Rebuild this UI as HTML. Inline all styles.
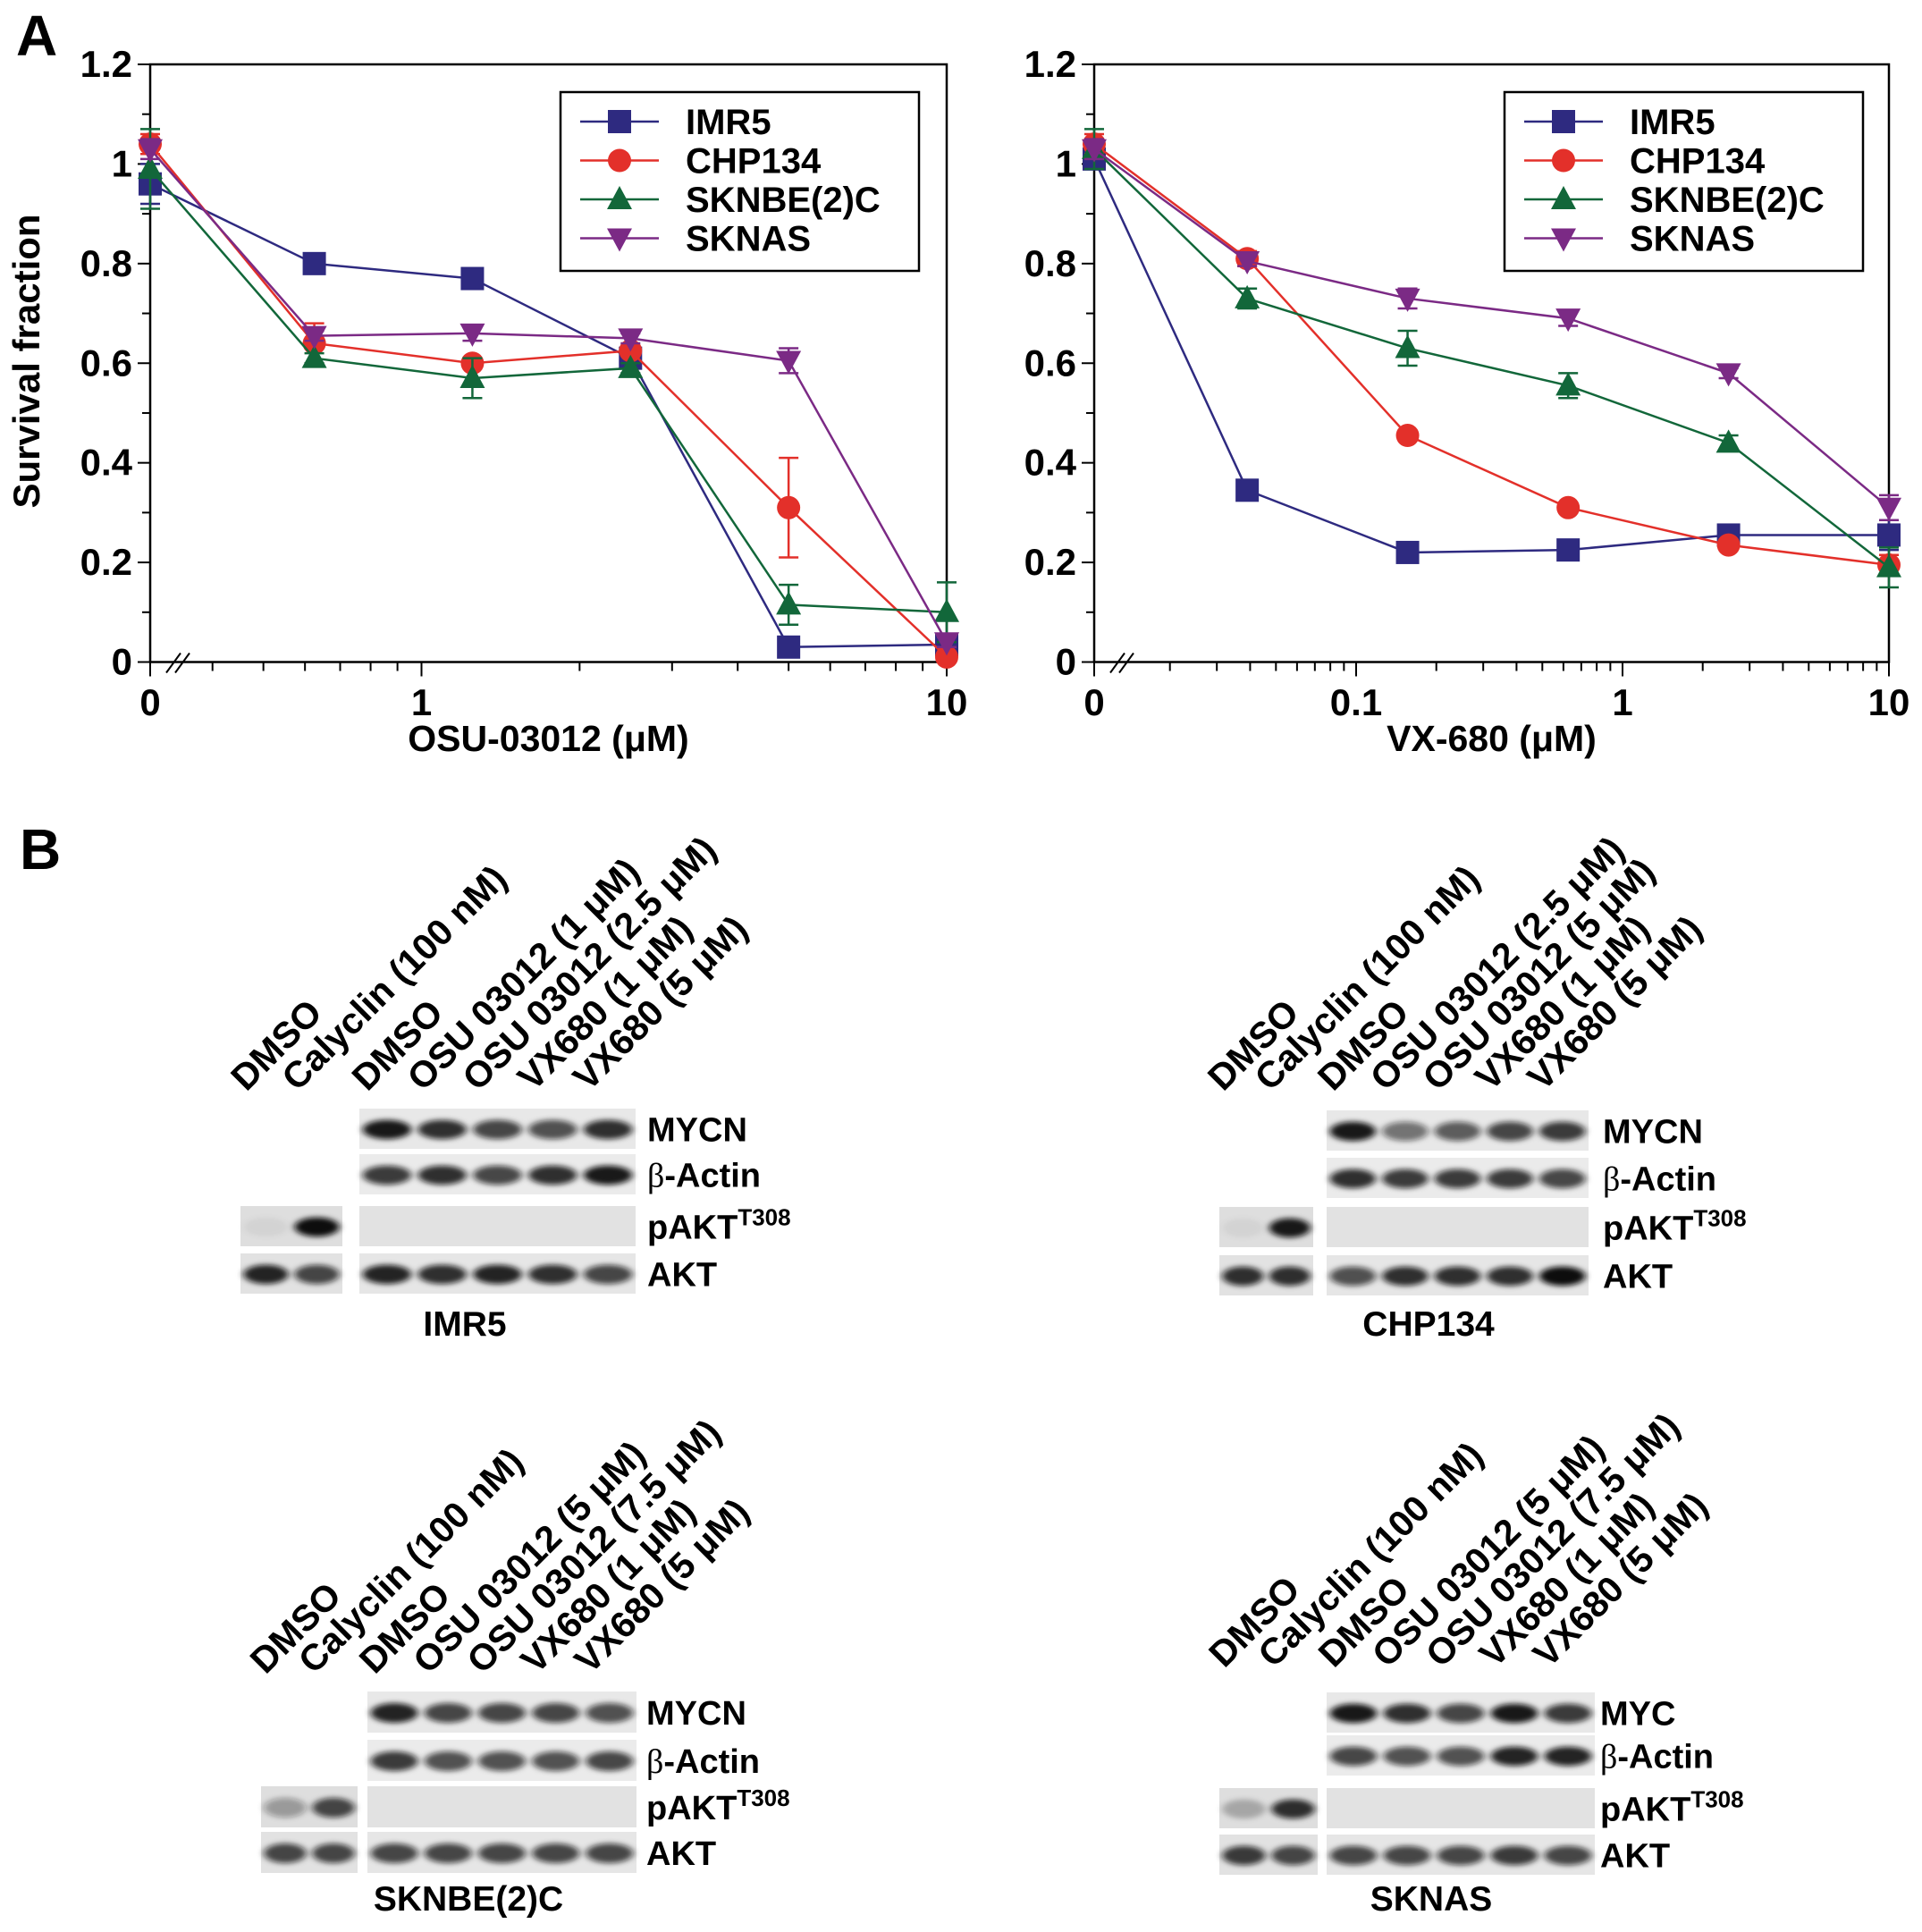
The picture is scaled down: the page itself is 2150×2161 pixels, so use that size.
<!DOCTYPE html>
<html><head><meta charset="utf-8"><style>
html,body{margin:0;padding:0;background:#fff;}
svg{display:block;font-family:"Liberation Sans",sans-serif;font-weight:bold;}
</style></head><body>
<svg id="fig" width="2150" height="2161" viewBox="0 0 2150 2161" xmlns="http://www.w3.org/2000/svg">
<defs><filter id="blur" x="-30%" y="-100%" width="160%" height="300%"><feGaussianBlur stdDeviation="4 3"/></filter></defs>
<text x="18" y="62" font-size="64">A</text>
<text x="22" y="972" font-size="64">B</text>
<g id="chartL"></g>
<g id="chartR"></g>
<g id="blots"></g>
</svg>
<script>
const NS="http://www.w3.org/2000/svg";
const seriesNames=["IMR5","CHP134","SKNBE(2)C","SKNAS"];
const seriesColors=["#2e2a80","#e3302a","#12673a","#7b2a85"];
const seriesMarkers=["square","circle","tri","tridown"];
const yTicks=[0,0.2,0.4,0.6,0.8,1,1.2];
const yTickLabels=["0","0.2","0.4","0.6","0.8","1","1.2"];
// OSU-03012
const osuDose=[0,0.625,1.25,2.5,5,10];
const osuIMR5=[0.96,0.80,0.77,0.61,0.03,0.035];
const osuCHP134=[1.04,0.64,0.60,0.625,0.31,0.01];
const osuSKNBE=[0.99,0.61,0.57,0.59,0.115,0.10];
const osuSKNAS=[1.03,0.655,0.66,0.65,0.605,0.04];
const osuErrIMR5=[0.04,0.01,0.02,0.01,0.01,0.01];
const osuErrCHP134=[0.02,0.04,0.01,0.01,0.10,0.01];
const osuErrSKNBE=[0.08,0.01,0.04,0.01,0.04,0.06];
const osuErrSKNAS=[0.02,0.01,0.015,0.01,0.025,0.01];
const osuXTicks=[1,10];
const osuXTickLabels=["1","10"];
// VX-680
const vxDose=[0,0.039,0.156,0.625,2.5,10];
const vxIMR5=[1.01,0.345,0.22,0.225,0.255,0.255];
const vxCHP134=[1.04,0.81,0.455,0.31,0.235,0.195];
const vxSKNBE=[1.03,0.73,0.63,0.555,0.44,0.19];
const vxSKNAS=[1.03,0.805,0.73,0.69,0.58,0.31];
const vxErrIMR5=[0.02,0.01,0.01,0.01,0.01,0.03];
const vxErrCHP134=[0.02,0.015,0.01,0.01,0.01,0.02];
const vxErrSKNBE=[0.04,0.02,0.035,0.025,0.015,0.04];
const vxErrSKNAS=[0.02,0.01,0.02,0.015,0.01,0.025];
const vxXTicks=[0.1,1,10];
const vxXTickLabels=["0.1","1","10"];

function el(tag,attrs,parent){const e=document.createElementNS(NS,tag);for(const k in attrs)e.setAttribute(k,attrs[k]);if(parent)parent.appendChild(e);return e;}

function drawChart(g,cfg){
  const yTop=72,yBot=740.5;
  const ys=v=>yBot-(v/1.2)*(yBot-yTop);
  const xs=v=>v<=0?cfg.x0:cfg.x1+Math.log10(v)*cfg.dec;
  const xr=cfg.x1+cfg.dec;
  const frame=el("rect",{x:cfg.x0,y:yTop,width:xr-cfg.x0,height:yBot-yTop,fill:"none",stroke:"#000","stroke-width":2.5},g);
  
  
  for(let i=0;i<=12;i++){const v=i*0.1;const major=i%2===0;
    el("line",{x1:cfg.x0-(major?14:9),x2:cfg.x0,y1:ys(v),y2:ys(v),stroke:"#000","stroke-width":2},g);}
  yTicks.forEach((v,i)=>{const t=el("text",{x:cfg.x0-20,y:ys(v)+14,"text-anchor":"end","font-size":42},g);t.textContent=yTickLabels[i];
    
    });
  for(let d=-3;d<=1;d++){for(let m=1;m<=9;m++){const v=m*Math.pow(10,d);if(v>10.001)continue;const x=xs(v);if(x<cfg.x0+45||x>xr+1)continue;
    el("line",{x1:x,x2:x,y1:yBot,y2:yBot+(m===1?16:10),stroke:"#000","stroke-width":2},g);}}
  el("line",{x1:cfg.x0,x2:cfg.x0,y1:yBot,y2:yBot+16,stroke:"#000","stroke-width":2},g);
  el("line",{x1:cfg.x0+18,y1:yBot+12,x2:cfg.x0+34,y2:yBot-10,stroke:"#000","stroke-width":2},g);
  el("line",{x1:cfg.x0+28,y1:yBot+12,x2:cfg.x0+44,y2:yBot-10,stroke:"#000","stroke-width":2},g);
  let t=el("text",{x:cfg.x0,y:800,"text-anchor":"middle","font-size":42},g);t.textContent="0";
  
  
  cfg.xt.forEach((v,i)=>{const tt=el("text",{x:xs(v),y:800,"text-anchor":"middle","font-size":42},g);tt.textContent=cfg.xtl[i];
    
    });
  t=el("text",{x:(cfg.x0+xr)/2,y:840,"text-anchor":"middle","font-size":41},g);t.textContent=cfg.title;
  
  
  cfg.series.forEach((s,si)=>{
    const sg=el("g",{},g);
    
    
    const pts=cfg.dose.map((d,i)=>xs(d)+","+ys(s[i])).join(" ");
    el("polyline",{points:pts,fill:"none",stroke:seriesColors[si],"stroke-width":2.5},sg);
    cfg.dose.forEach((d,i)=>{const x=xs(d),e=cfg.err[si][i];
      el("line",{x1:x,x2:x,y1:ys(s[i]-e),y2:ys(s[i]+e),stroke:seriesColors[si],"stroke-width":2.5},sg);
      el("line",{x1:x-11,x2:x+11,y1:ys(s[i]+e),y2:ys(s[i]+e),stroke:seriesColors[si],"stroke-width":2.5},sg);
      el("line",{x1:x-11,x2:x+11,y1:ys(s[i]-e),y2:ys(s[i]-e),stroke:seriesColors[si],"stroke-width":2.5},sg);
      marker(sg,seriesMarkers[si],x,ys(s[i]),seriesColors[si]);});
  });
  const lg=el("g",{},g);
  
  
  el("rect",{x:cfg.lx,y:103,width:401,height:200,fill:"#fff",stroke:"#000","stroke-width":2.5},lg);
  seriesNames.forEach((n,i)=>{const y=136+i*43.5;
    const eg=el("g",{},lg);
    
    
    el("line",{x1:cfg.lx+22,x2:cfg.lx+110,y1:y,y2:y,stroke:seriesColors[i],"stroke-width":2.5},eg);
    marker(eg,seriesMarkers[i],cfg.lx+66,y,seriesColors[i]);
    const tx=el("text",{x:cfg.lx+140,y:y+14,"font-size":40},eg);tx.textContent=n;});
}
function marker(g,type,x,y,c){
  if(type==="square")el("rect",{x:x-13,y:y-13,width:26,height:26,fill:c},g);
  else if(type==="circle")el("circle",{cx:x,cy:y,r:13,fill:c},g);
  else if(type==="tri")el("polygon",{points:`${x},${y-15} ${x+14},${y+11} ${x-14},${y+11}`,fill:c},g);
  else el("polygon",{points:`${x},${y+15} ${x+14},${y-11} ${x-14},${y-11}`,fill:c},g);
}
drawChart(document.getElementById("chartL"),{x0:168,x1:471.5,dec:587.5,lx:627,dose:osuDose,
  series:[osuIMR5,osuCHP134,osuSKNBE,osuSKNAS],err:[osuErrIMR5,osuErrCHP134,osuErrSKNBE,osuErrSKNAS],
  xt:osuXTicks,xtl:osuXTickLabels,title:"OSU-03012 (\u03BCM)"});
drawChart(document.getElementById("chartR"),{x0:1224,x1:1815,dec:298,lx:1683,dose:vxDose,
  series:[vxIMR5,vxCHP134,vxSKNBE,vxSKNAS],err:[vxErrIMR5,vxErrCHP134,vxErrSKNBE,vxErrSKNAS],
  xt:vxXTicks,xtl:vxXTickLabels,title:"VX-680 (\u03BCM)"});
let yt=el("text",{transform:"translate(44,404) rotate(-90)","text-anchor":"middle","font-size":42},document.getElementById("fig"));
yt.textContent="Survival  fraction";



const lanesIMR5=["DMSO","Calyclin (100 nM)","DMSO","OSU 03012 (1 \u03BCM)","OSU 03012 (2.5 \u03BCM)","VX680 (1 \u03BCM)","VX680 (5 \u03BCM)"];
const lanesCHP134=["DMSO","Calyclin (100 nM)","DMSO","OSU 03012 (2.5 \u03BCM)","OSU 03012 (5 \u03BCM)","VX680 (1 \u03BCM)","VX680 (5 \u03BCM)"];
const lanesSK=["DMSO","Calyclin (100 nM)","DMSO","OSU 03012 (5 \u03BCM)","OSU 03012 (7.5 \u03BCM)","VX680 (1 \u03BCM)","VX680 (5 \u03BCM)"];
const mycIMR5=[0.95,0.85,0.75,0.7,0.85], actIMR5=[0.8,0.85,0.75,0.85,0.95], pIMR5=[0.05,1.0], aktLIMR5=[0.9,0.75], aktIMR5=[0.9,0.85,0.9,0.85,0.75];
const mycCHP=[0.95,0.55,0.65,0.75,0.8], actCHP=[0.85,0.8,0.8,0.8,0.75], pCHP=[0.05,0.95], aktLCHP=[0.85,0.85], aktCHP=[0.7,0.85,0.85,0.85,1.0];
const mycBE=[0.9,0.75,0.75,0.75,0.7], actBE=[0.8,0.7,0.7,0.7,0.75], pBE=[0.35,0.75], aktLBE=[0.75,0.75], aktBE=[0.75,0.75,0.75,0.75,0.75];
const mycAS=[0.95,0.85,0.75,0.95,0.8], actAS=[0.75,0.7,0.7,0.9,0.9], pAS=[0.25,0.85], aktLAS=[0.8,0.75], aktAS=[0.75,0.75,0.75,0.8,0.75];

const blotLayouts=[
 {mx:402,mw:309,sx:269,sw:114,rows:[1240,1291,1349,1402],rh:45,lab:724,labels:lanesIMR5,ty:1222,name:"IMR5",prot:"MYCN",
  d:[mycIMR5,actIMR5,pIMR5,aktLIMR5,aktIMR5],cy:1494,cx:520},
 {mx:1484,mw:293,sx:1364,sw:105,rows:[1242,1295,1350,1404],rh:45,lab:1793,labels:lanesCHP134,ty:1222,name:"CHP134",prot:"MYCN",
  d:[mycCHP,actCHP,pCHP,aktLCHP,aktCHP],cy:1494,cx:1598},
 {mx:411,mw:301,sx:292,sw:108,rows:[1892,1946,1998,2049],rh:46,lab:723,labels:lanesSK,ty:1874,name:"SKNBE(2)C",prot:"MYCN",
  d:[mycBE,actBE,pBE,aktLBE,aktBE],cy:2137,cx:524},
 {mx:1484,mw:300,sx:1364,sw:110,rows:[1893,1941,2000,2052],rh:45,lab:1790,labels:lanesSK,ty:1867,name:"SKNAS",prot:"MYC",
  d:[mycAS,actAS,pAS,aktLAS,aktAS],cy:2137,cx:1601}
];
const bg=document.getElementById("blots");
function strip(g,x,y,w,h,vals,bgc){
  el("rect",{x:x,y:y,width:w,height:h,fill:bgc},g);
  const lw=w/vals.length;
  vals.forEach((v,i)=>{if(v<0.02)return;
    el("ellipse",{cx:x+lw*(i+0.5),cy:y+h*0.52,rx:lw*0.44,ry:h*0.24,fill:"#111","fill-opacity":v,filter:"url(#blur)"},g);});
}
blotLayouts.forEach((B,bi)=>{
  const g=el("g",{},bg);
  
  
  strip(g,B.mx,B.rows[0],B.mw,B.rh,B.d[0],"#e8e8e8");
  strip(g,B.mx,B.rows[1],B.mw,B.rh,B.d[1],"#ebebeb");
  strip(g,B.mx,B.rows[2],B.mw,B.rh,[0,0,0,0,0],"#e2e2e2");
  strip(g,B.sx,B.rows[2],B.sw,B.rh,B.d[2],"#dedede");
  strip(g,B.sx,B.rows[3],B.sw,B.rh,B.d[3],"#e2e2e2");
  strip(g,B.mx,B.rows[3],B.mw,B.rh,B.d[4],"#e6e6e6");
  const prots=[B.prot,"\u03B2-Actin","pAKT","AKT"];
  prots.forEach((p,i)=>{const t=el("text",{x:B.lab,y:B.rows[i]+B.rh/2+14,"font-size":38},g);
    
    
    if(i===1){const a=el("tspan",{"font-weight":"normal","font-family":"Liberation Serif, serif"},t);a.textContent="\u03B2";const b=el("tspan",{},t);b.textContent="-Actin";}
    else if(i===2){const a=el("tspan",{},t);a.textContent="pAKT";const b=el("tspan",{dy:-15,"font-size":26},t);b.textContent="T308";}
    else t.textContent=p;});
  const lanesX=[B.sx+B.sw*0.25,B.sx+B.sw*0.75];
  for(let i=0;i<5;i++)lanesX.push(B.mx+B.mw*(i+0.5)/5);
  B.labels.forEach((l,i)=>{const x=lanesX[i]-22;
    const t=el("text",{transform:`translate(${x},${B.ty}) rotate(-45)`,"font-size":41},g);t.textContent=l;
    
    });
  const c=el("text",{x:B.cx,y:B.cy,"text-anchor":"middle","font-size":39},g);c.textContent=B.name;
  
  
});
</script>
</body></html>
